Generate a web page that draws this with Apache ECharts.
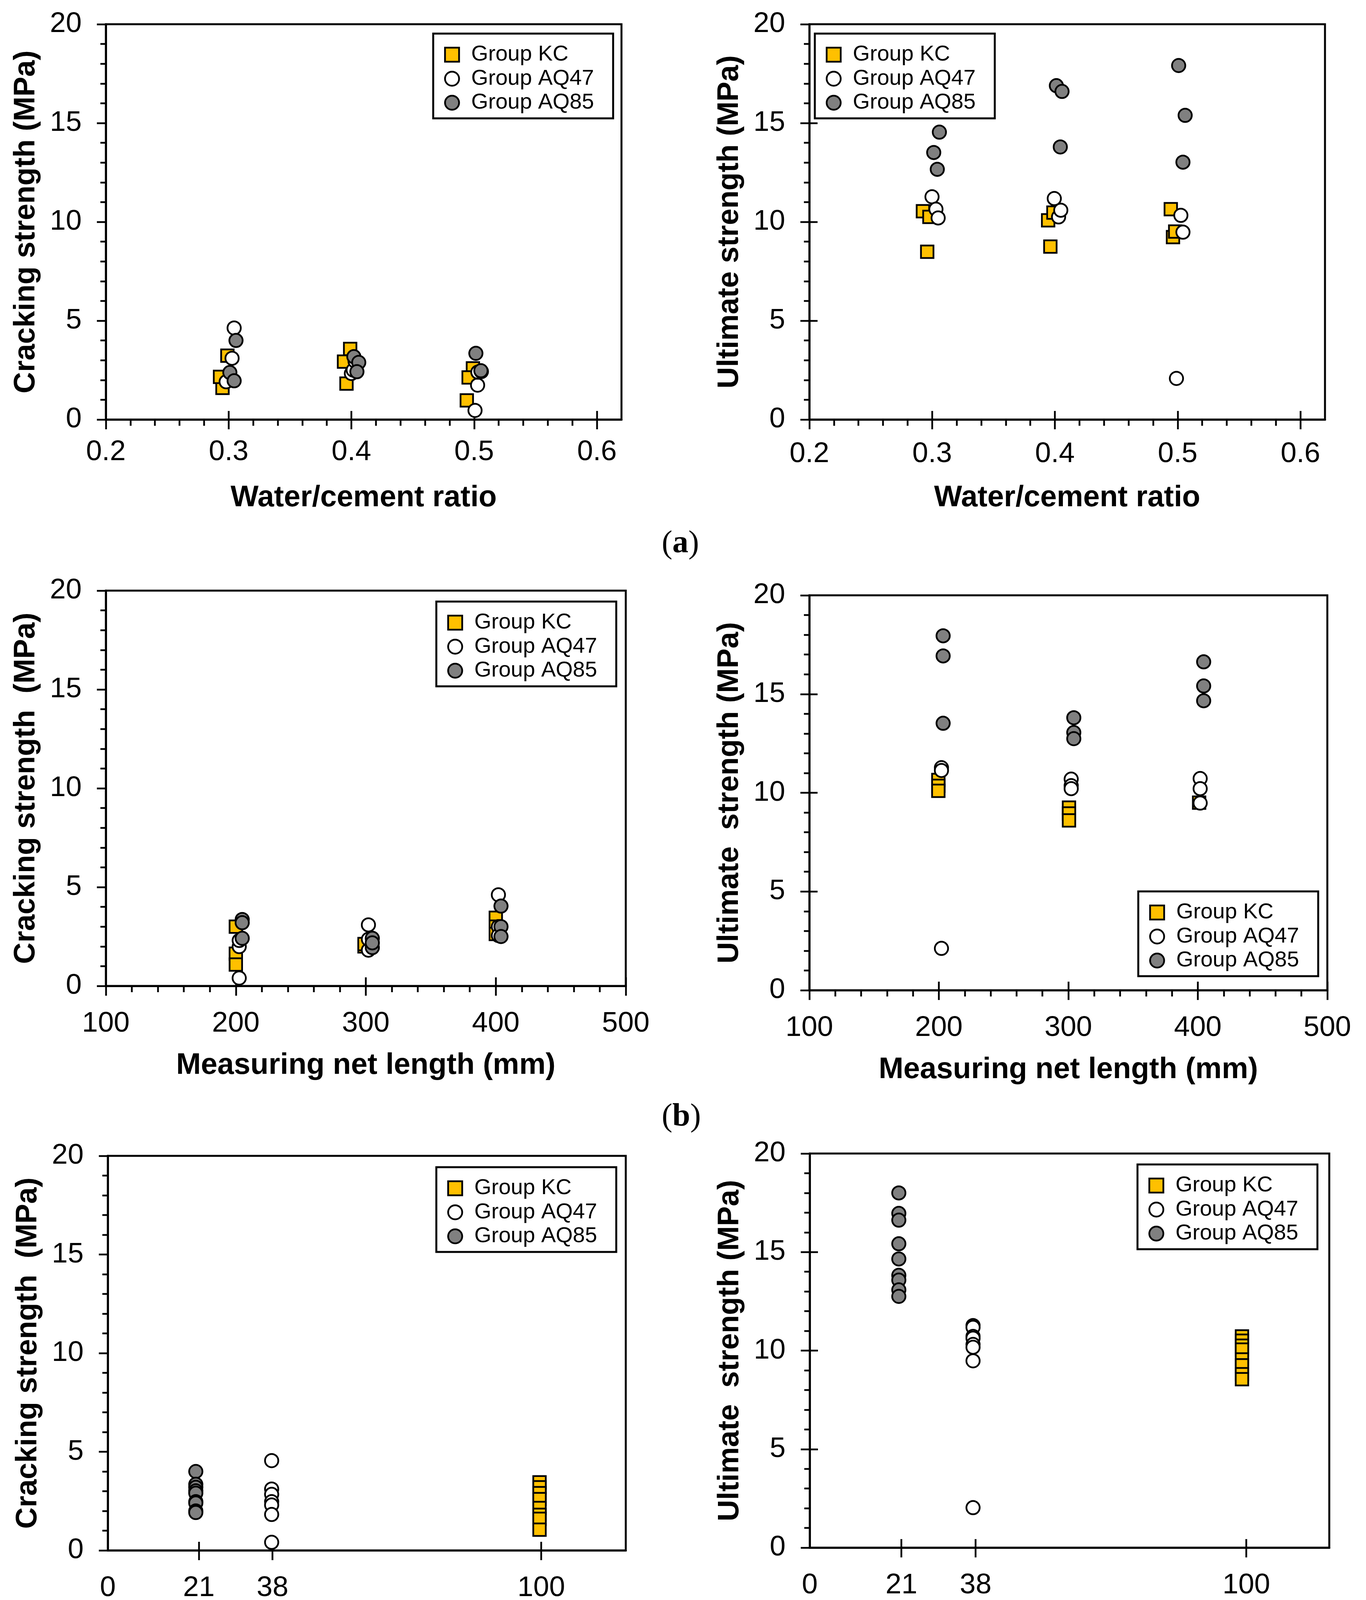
<!DOCTYPE html>
<html><head><meta charset="utf-8">
<script src="https://cdn.jsdelivr.net/npm/echarts@6/dist/echarts.min.js"></script>
<style>html,body{margin:0;padding:0;background:#fff}#c{width:3497px;height:4359px}</style>
</head><body><div id="c"></div>
<script>
// ---------- data ----------
const seriesNames = ['Group KC', 'Group AQ47', 'Group AQ85'];
const strengthTicks = [0, 5, 10, 15, 20];
const wcTicks = [0.2, 0.3, 0.4, 0.5, 0.6];
const lenTicks = [100, 200, 300, 400, 500];
const spacingLabels = [0, 21, 38, 100];
const spacingTicks = [21, 38, 100];

// (a) water/cement ratio
const wcCrackKC = [[0.295,1.60],[0.293,2.16],[0.299,3.23],[0.399,3.57],[0.394,2.93],[0.396,1.82],[0.499,2.59],[0.4955,2.13],[0.494,0.97]];
const wcCrackAQ47 = [[0.3045,4.63],[0.3028,3.10],[0.298,1.91],[0.400,2.33],[0.4015,2.50],[0.403,2.95],[0.5028,1.74],[0.5007,0.46],[0.503,2.40]];
const wcCrackAQ85 = [[0.306,4.00],[0.301,2.38],[0.3045,1.96],[0.402,3.18],[0.406,2.89],[0.4045,2.42],[0.5014,3.35],[0.5059,2.43],[0.5055,2.47]];
const wcUltKC = [[0.2925,10.54],[0.2978,10.25],[0.296,8.49],[0.3945,10.08],[0.3988,10.47],[0.3963,8.75],[0.4944,10.64],[0.4962,9.23],[0.498,9.51]];
const wcUltAQ47 = [[0.2999,11.27],[0.3031,10.64],[0.3049,10.20],[0.3995,11.18],[0.403,10.25],[0.4048,10.59],[0.499,2.08],[0.5026,10.33],[0.5043,9.48]];
const wcUltAQ85 = [[0.3059,14.54],[0.3013,13.51],[0.3042,12.66],[0.4012,16.89],[0.4058,16.60],[0.4044,13.79],[0.5008,17.91],[0.5061,15.39],[0.5043,13.02]];

// (b) measuring net length
const lenCrackKC = [[200,3.0],[200,1.63],[200,1.08],[299,2.0],[299,2.12],[400,3.45],[400,3.0],[400,2.63]];
const lenCrackAQ47 = [[202.6,0.40],[202.6,1.99],[202.6,2.30],[302,3.09],[302,1.81],[302,2.36],[402,4.61],[402,3.0],[402,2.55]];
const lenCrackAQ85 = [[204.9,3.36],[204.9,3.2],[204.9,2.41],[305,2.41],[305,1.94],[305,2.18],[404,4.04],[404,3.0],[404,2.5]];
const lenUltKC = [[199.6,10.65],[199.6,10.35],[199.6,10.1],[300.5,9.25],[300.5,8.95],[300.5,8.6],[401,9.5]];
const lenUltAQ47 = [[202,11.27],[202,11.13],[202,2.12],[302.2,10.69],[302.2,10.36],[302.2,10.21],[401.8,10.72],[401.8,10.21],[401.8,9.48]];
const lenUltAQ85 = [[203.3,17.95],[203.3,16.93],[203.3,13.52],[304.2,13.8],[304.2,13.05],[304.2,12.74],[404.5,16.63],[404.5,15.41],[404.5,14.66]];

// (c) strand spacing
const spCrackKC = [[99.6,3.45],[99.6,3.2],[99.6,2.9],[99.6,2.6],[99.6,2.15],[99.6,1.8],[99.6,1.6],[99.6,1.05]];
const spCrackAQ47 = [[37.8,4.55],[37.8,3.11],[37.8,2.84],[37.8,2.47],[37.8,2.3],[37.8,1.82],[37.8,0.41]];
const spCrackAQ85 = [[20.3,4.0],[20.3,3.35],[20.3,3.2],[20.3,3.02],[20.3,2.9],[20.3,2.47],[20.3,2.4],[20.3,2.0],[20.3,1.92]];
const spUltKC = [[99,10.72],[99,10.5],[99,10.25],[99,10.05],[99,9.55],[99,9.25],[99,8.8],[99,8.55]];
const spUltAQ47 = [[37.4,11.27],[37.4,11.18],[37.4,10.72],[37.4,10.63],[37.4,10.31],[37.4,10.17],[37.4,9.48],[37.4,2.03]];
const spUltAQ85 = [[20.4,18.0],[20.4,16.96],[20.4,16.62],[20.4,15.42],[20.4,14.65],[20.4,13.82],[20.4,13.58],[20.4,13.08],[20.4,12.75]];

// ---------- layout ----------
const FONT = 'Liberation Sans, Arial, Helvetica, sans-serif';
const panels = [
  {grid:{left:271,top:62,width:1320,height:1012}, xmin:0.2, xmax:0.62, xint:0.1, xTicks:wcTicks, xLabels:wcTicks, minor:true,
   xName:'Water/cement ratio', yName:'Cracking strength (MPa)', yCross:false, data:[wcCrackKC,wcCrackAQ47,wcCrackAQ85], legend:{left:1109,top:86}, lm:47, ng:163},
  {grid:{left:2072,top:62,width:1320,height:1012}, xmin:0.2, xmax:0.62, xint:0.1, xTicks:wcTicks, xLabels:wcTicks, minor:true,
   xName:'Water/cement ratio', yName:'Ultimate strength (MPa)', yCross:true, data:[wcUltKC,wcUltAQ47,wcUltAQ85], legend:{left:2086,top:86}, lm:52, ng:163},
  {grid:{left:271,top:1512,width:1331,height:1012}, xmin:100, xmax:500, xint:100, xTicks:lenTicks, xLabels:lenTicks, minor:true,
   xName:'Measuring net length (mm)', yName:'Cracking strength  (MPa)', yCross:false, data:[lenCrackKC,lenCrackAQ47,lenCrackAQ85], legend:{left:1117,top:1540}, lm:60, ng:166},
  {grid:{left:2072,top:1524,width:1326,height:1011}, xmin:100, xmax:500, xint:100, xTicks:lenTicks, xLabels:lenTicks, minor:true,
   xName:'Measuring net length (mm)', yName:'Ultimate  strength (MPa)', yCross:true, data:[lenUltKC,lenUltAQ47,lenUltAQ85], legend:{left:2914,top:2282}, lm:60, ng:166},
  {grid:{left:276,top:2959,width:1326,height:1010}, xmin:0, xmax:119.5, xint:null, xTicks:spacingTicks, xLabels:spacingLabels, minor:false,
   xName:'Strand spacing (mm)', yName:'Cracking strength  (MPa)', yCross:false, data:[spCrackKC,spCrackAQ47,spCrackAQ85], legend:{left:1117,top:2988}, lm:60, ng:166},
  {grid:{left:2073,top:2953,width:1330,height:1009}, xmin:0, xmax:119, xint:null, xTicks:spacingTicks, xLabels:spacingLabels, minor:false,
   xName:'Strand spacing (mm)', yName:'Ultimate  strength (MPa)', yCross:true, data:[spUltKC,spUltAQ47,spUltAQ85], legend:{left:2912,top:2981}, lm:60, ng:166}
];

const seriesStyle = [
  {symbol:'rect', symbolSize:32, color:'#FFC000'},
  {symbol:'circle', symbolSize:34, color:'#FFFFFF'},
  {symbol:'circle', symbolSize:34, color:'#808080'}
];
const legendIcons = ['path://M0,0H10V10H0Z', 'circle', 'circle'];

const grid = [], xAxis = [], yAxis = [], series = [], legend = [];
panels.forEach((p, i) => {
  grid.push(Object.assign({show:true, borderColor:'#000', borderWidth:5, backgroundColor:'transparent', containLabel:false}, p.grid));
  const xBase = {gridIndex:i, type:'value', min:p.xmin, max:p.xmax, position:'bottom'};
  if (p.xint) xBase.interval = p.xint;
  xAxis.push(Object.assign({}, xBase, {
    name:p.xName, nameLocation:'middle', nameGap:p.ng,
    nameTextStyle:{fontFamily:FONT, fontSize:76, fontWeight:'bold', color:'#000'},
    axisLine:{show:true, onZero:false, lineStyle:{color:'#000', width:5}},
    axisTick:{show:true, inside:false, length:25, customValues:p.xTicks, lineStyle:{color:'#000', width:4.5}},
    minorTick:{show:p.minor, splitNumber:5, length:16, lineStyle:{color:'#000', width:4.5}},
    axisLabel:{show:true, margin:p.lm, customValues:p.xLabels, fontFamily:FONT, fontSize:73, color:'#000'},
    splitLine:{show:false}, minorSplitLine:{show:false}
  }));
  xAxis.push(Object.assign({}, xBase, {
    axisLine:{show:false},
    axisTick:{show:true, inside:true, length:22, customValues:p.xTicks.filter(v => v !== p.xmin), lineStyle:{color:'#000', width:4.5}},
    axisLabel:{show:false}, splitLine:{show:false}
  }));
  const yBase = {gridIndex:i, type:'value', min:0, max:20, interval:5, position:'left'};
  yAxis.push(Object.assign({}, yBase, {
    name:p.yName, nameLocation:'middle', nameGap:166,
    nameTextStyle:{fontFamily:FONT, fontSize:76, fontWeight:'bold', color:'#000'},
    axisLine:{show:true, onZero:false, lineStyle:{color:'#000', width:5}},
    axisTick:{show:true, inside:false, length:23, lineStyle:{color:'#000', width:4.5}},
    minorTick:{show:true, splitNumber:5, length:14, lineStyle:{color:'#000', width:4.5}},
    axisLabel:{show:true, margin:62, customValues:strengthTicks, fontFamily:FONT, fontSize:73, color:'#000'},
    splitLine:{show:false}, minorSplitLine:{show:false}
  }));
  yAxis.push(Object.assign({}, yBase, {
    axisLine:{show:false},
    axisTick:{show:p.yCross, inside:true, length:21, customValues:[5, 10, 15], lineStyle:{color:'#000', width:4.5}},
    axisLabel:{show:false}, splitLine:{show:false}
  }));
  p.data.forEach((d, k) => {
    const st = seriesStyle[k];
    series.push({
      type:'scatter', name:seriesNames[k], xAxisIndex:2*i, yAxisIndex:2*i, data:d,
      symbol:st.symbol, symbolSize:st.symbolSize,
      itemStyle:{color:st.color, borderColor:'#000', borderWidth:4.5, opacity:1},
      emphasis:{disabled:true}, z:2 + k
    });
  });
  legend.push({
    orient:'vertical', left:p.legend.left, top:p.legend.top,
    data:seriesNames.map((n, k) => ({name:n, icon:legendIcons[k]})),
    itemWidth:88, itemHeight:36, itemGap:5.5, padding:[26, 49, 12, 28],
    symbolKeepAspect:true,
    borderColor:'#000', borderWidth:5, borderRadius:0, backgroundColor:'#fff',
    selectedMode:false,
    itemStyle:{borderColor:'#000', borderWidth:4.5},
    textStyle:{fontFamily:FONT, fontSize:56, color:'#000'}
  });
});

const figLabels = [['a', 1397], ['b', 2864], ['c', 4309]];
const graphic = figLabels.map(([t, y]) => ({
  type:'text', left:1739 - 45, top:y - 45,
  style:{text:'{p|(}{b|' + t + '}{p|)}', rich:{
    p:{fontFamily:'Liberation Serif, Times New Roman, serif', fontSize:82, fill:'#000'},
    b:{fontFamily:'Liberation Serif, Times New Roman, serif', fontSize:82, fontWeight:'bold', fill:'#000'}
  }}
}));

const chart = echarts.init(document.getElementById('c'), null, {renderer:'canvas', devicePixelRatio:1});
chart.setOption({animation:false, backgroundColor:'#fff', grid, xAxis, yAxis, series, legend, graphic});
</script></body></html>
